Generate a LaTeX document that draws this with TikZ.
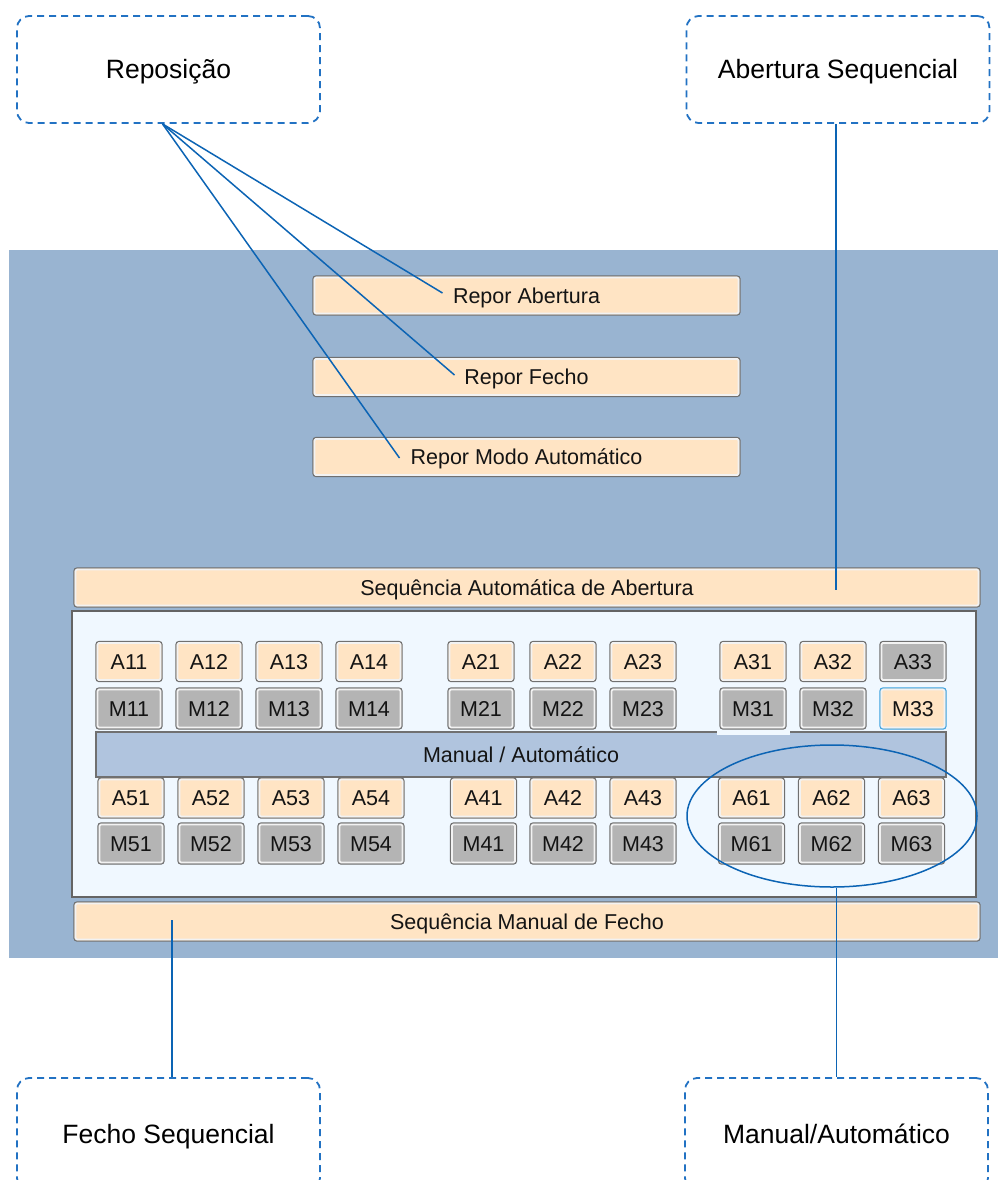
\documentclass[tikz,border=0pt]{standalone}
\usepackage{fontspec}
\setmainfont{Liberation Sans}
\usetikzlibrary{calc,shapes.geometric}

\definecolor{panelblue}{HTML}{99B4D1}
\definecolor{groupbg}{HTML}{F0F8FF}
\definecolor{groupedge}{HTML}{646464}
\definecolor{peach}{HTML}{FFE4C4}
\definecolor{btngray}{HTML}{B4B4B4}
\definecolor{barblue}{HTML}{B0C4DE}
\definecolor{edgegray}{HTML}{707070}
\definecolor{rimlight}{HTML}{F2F2F2}
\definecolor{focusblue}{HTML}{3DA2E0}
\definecolor{calloutblue}{HTML}{2272C3}
\definecolor{linkblue}{HTML}{0C64B4}
\definecolor{labelink}{HTML}{141414}

\tikzset{
  ctl/.style={rounded corners=3pt, draw=edgegray, line width=1.3pt, fill=#1,
    inner sep=0pt, text=labelink, font=\fontsize{21.5}{24}\selectfont,
    text height=15.4pt, text depth=0pt},
  rimline/.style={rimlight, line width=1.7pt, rounded corners=1.5pt},
  widebtn/.style={ctl=peach, minimum width=427pt, minimum height=39pt},
  seqbtn/.style={ctl=peach, minimum width=906pt, minimum height=39pt},
  abtn/.style={ctl=peach, minimum width=66pt, minimum height=40pt},
  mbtn/.style={ctl=btngray, minimum width=66pt, minimum height=41pt},
  focusbtn/.style={ctl=peach, draw=focusblue, minimum width=66pt, minimum height=41pt},
  callout/.style={draw=calloutblue, dash pattern=on 7pt off 5pt, line width=1.8pt,
    rounded corners=12pt, minimum width=303pt, minimum height=107pt, inner sep=0pt,
    font=\fontsize{26.5}{30}\selectfont, text height=19pt, text depth=0pt},
  link/.style={draw=linkblue, line width=1.5pt},
}

% light inner bevel of a button, drawn just inside its border
\newcommand\ctlrim[1]{%
  \draw[rimline] ($(#1.south west)+(2.1,2.1)$) rectangle ($(#1.north east)+(-2.1,-2.1)$);}

\begin{document}
\begin{tikzpicture}[x=1pt, y=1pt]
\useasboundingbox (0,0) rectangle (998,-1180);
\clip (0,0) rectangle (998,-1180);

% form background
\fill[panelblue] (9,-250) rectangle (998,-958);

% reset buttons
\node[widebtn] (rA) at (526.5,-295.5) {Repor Abertura};
\node[widebtn] (rF) at (526.5,-377) {Repor Fecho};
\node[widebtn] (rM) at (526.5,-457) {Repor Modo Automático};
\foreach \n in {rA,rF,rM}{\ctlrim{\n}}

% sequence buttons and valve group
\node[seqbtn] (seqA) at (527,-587.5) {Sequência Automática de Abertura};
\node[draw=groupedge, line width=2pt, fill=groupbg, minimum width=904pt,
      minimum height=286pt, inner sep=0pt] (grp) at (524,-754) {};
\node[seqbtn] (seqF) at (527,-921.5) {Sequência Manual de Fecho};
\ctlrim{seqA}
\ctlrim{seqF}

% manual / automatic bar
\node[draw=edgegray, line width=1.3pt, fill=barblue, minimum width=850pt,
      minimum height=45pt, inner sep=0pt, text=labelink,
      font=\fontsize{21.5}{24}\selectfont, text height=15.4pt, text depth=0pt]
      (bar) at (521,-754.5) {Manual / Automático};
\fill[groupbg] (717,-684) rectangle (790,-734.5);

% upper valve rows
\foreach \lbl/\cx in {11/129,12/209,13/289,14/369,21/481,22/563,23/643,31/753,32/833}{
  \node[abtn] (A\lbl) at (\cx,-661.5) {A\lbl};
  \node[mbtn] (M\lbl) at (\cx,-708.5) {M\lbl};
  \ctlrim{A\lbl}
  \ctlrim{M\lbl}
}
\node[mbtn, minimum height=40pt] (A33) at (913,-661.5) {A33};
\node[focusbtn] (M33) at (913,-708.5) {M33};
\ctlrim{A33}
\ctlrim{M33}

% lower valve rows
\foreach \lbl/\cx in {51/131,52/211,53/291,54/371,41/483.5,42/563,43/643,61/751.5,62/831.5,63/911.5}{
  \node[abtn] (A\lbl) at (\cx,-798) {A\lbl};
  \node[mbtn] (M\lbl) at (\cx,-843.5) {M\lbl};
  \ctlrim{A\lbl}
  \ctlrim{M\lbl}
}

% highlighted group
\node[ellipse, draw=linkblue, line width=1.5pt, minimum width=290pt,
      minimum height=142pt, inner sep=0pt] (sel) at (832,-816) {};

% callouts
\node[callout] (repo) at (168.5,-69.5) {Reposição};
\node[callout] (abseq) at (838,-69.5) {Abertura Sequencial};
\node[callout, minimum height=112pt] (fechoseq) at (168.5,-1134) {Fecho Sequencial};
\node[callout, minimum height=112pt] (manauto) at (836.5,-1134) {Manual/Automático};

% connector ends
\coordinate (repoTail) at ($(repo.south)+(-6,0)$);
\coordinate (rAend) at ($(rA.center)+(-84,2.5)$);
\coordinate (rFend) at ($(rF.center)+(-72,2)$);
\coordinate (rMend) at ($(rM.center)+(-127,-1)$);
\coordinate (abTip) at ($(seqA.center)+(309,-2.5)$);
\coordinate (fTip) at ($(seqF.center)+(-355,1.5)$);

% connectors
\draw[link] (repoTail) -- (rAend);
\draw[link] (repoTail) -- (rFend);
\draw[link] (repoTail) -- (rMend);
\draw[link] (abTip |- abseq.south) -- (abTip);
\draw[link] (fTip) -- (fTip |- fechoseq.north);
\draw[link] (sel.south -| manauto.north) -- (manauto.north);
\end{tikzpicture}
\end{document}
